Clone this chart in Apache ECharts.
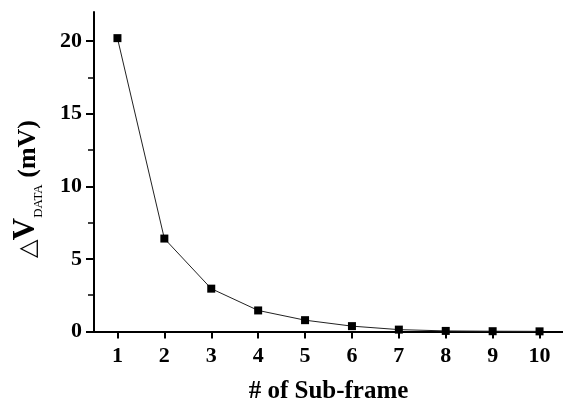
<!DOCTYPE html>
<html>
<head>
<meta charset="utf-8">
<script src="https://cdn.jsdelivr.net/npm/echarts@6/dist/echarts.min.js"></script>
<style>
  html, body { margin: 0; padding: 0; background: #fff; }
  #chart { width: 563px; height: 403px; }
</style>
</head>
<body>
<div id="chart"></div>
<script>
// Sub-frame index and the resulting data-voltage shift (mV)
const subFrames = [1, 2, 3, 4, 5, 6, 7, 8, 9, 10];
const deltaV = [20.2, 6.4, 2.95, 1.45, 0.78, 0.37, 0.13, 0.04, 0.02, 0.01];
const yTicks = [0, 5, 10, 15, 20];

const FONT = '"Liberation Serif", "Times New Roman", serif';

const chart = echarts.init(document.getElementById('chart'), null, { renderer: 'canvas' });

chart.setOption({
  animation: false,
  backgroundColor: '#fff',
  grid: {
    left: 94, top: 12, right: 0, bottom: 71.5,
    containLabel: false,
    outerBoundsMode: 'none'
  },
  xAxis: {
    type: 'value',
    min: 0.5,
    max: 10.5,
    interval: 1,
    name: '# of Sub-frame',
    nameLocation: 'middle',
    nameGap: 48,
    nameTextStyle: { fontFamily: FONT, fontWeight: 'bold', fontSize: 25, color: '#000' },
    axisLine: { show: true, onZero: false, lineStyle: { color: '#000', width: 2 } },
    axisTick: { show: true, inside: false, length: 7, lineStyle: { color: '#000', width: 2 }, customValues: subFrames },
    axisLabel: {
      show: true, margin: 14, fontFamily: FONT, fontWeight: 'bold', fontSize: 22, color: '#000',
      customValues: subFrames
    },
    splitLine: { show: false }
  },
  yAxis: {
    type: 'value',
    min: 0,
    max: 22,
    interval: 5,
    axisLine: { show: true, lineStyle: { color: '#000', width: 2 } },
    axisTick: { show: true, inside: false, length: 8, lineStyle: { color: '#000', width: 2 }, customValues: yTicks },
    minorTick: { show: true, splitNumber: 2, length: 6, lineStyle: { color: '#000', width: 1.5 } },
    axisLabel: {
      show: true, margin: 12, fontFamily: FONT, fontWeight: 'bold', fontSize: 22, color: '#000',
      customValues: yTicks
    },
    splitLine: { show: false }
  },
  graphic: [{
    type: 'text',
    left: 10,
    top: 120,
    rotation: Math.PI / 2,
    style: {
      text: '{d|\u25B3}{v|V}{s|DATA}{u| (mV)}',
      rich: {
        d: { fontFamily: FONT, fontSize: 24, color: '#000', lineHeight: 30, verticalAlign: 'bottom' },
        v: { fontFamily: FONT, fontWeight: 'bold', fontSize: 31, color: '#000', lineHeight: 30, verticalAlign: 'bottom' },
        s: { fontFamily: FONT, fontSize: 13, color: '#000', lineHeight: 30, verticalAlign: 'bottom', padding: [0, 0, -4, 0] },
        u: { fontFamily: FONT, fontWeight: 'bold', fontSize: 26, color: '#000', lineHeight: 30, verticalAlign: 'bottom' }
      }
    }
  }],
  series: [{
    type: 'line',
    data: subFrames.map((x, i) => [x, deltaV[i]]),
    symbol: 'rect',
    symbolSize: 8,
    itemStyle: { color: '#000' },
    lineStyle: { color: '#222', width: 1 },
    clip: false
  }]
});
</script>
</body>
</html>
